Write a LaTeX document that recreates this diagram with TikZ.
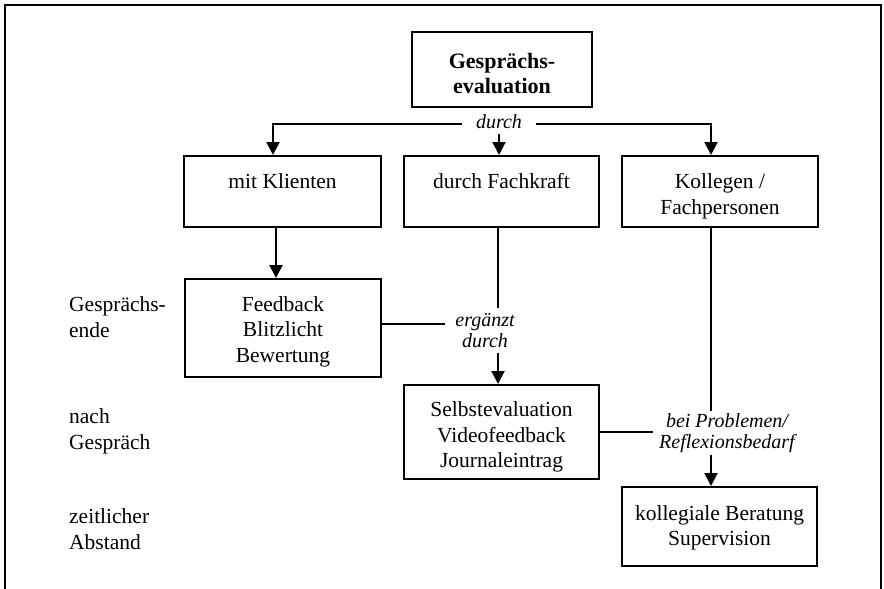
\documentclass[tikz,border=0pt]{standalone}
\usepackage{fontspec}
\setmainfont{Liberation Serif}
\usetikzlibrary{arrows.meta}
\begin{document}
\begin{tikzpicture}[x=1pt,y=-1pt,
  box/.style={draw, line width=2pt, inner sep=0pt},
  txt/.style={align=center, inner sep=0pt, anchor=north, font=\fontsize{21.5}{25.5}\selectfont},
  side/.style={align=left, inner sep=0pt, anchor=north west, font=\fontsize{21.5}{25.5}\selectfont},
  cond/.style={align=center, inner sep=0pt, font=\fontsize{20}{20.5}\selectfont\itshape},
  link/.style={line width=2pt},
  arr/.style={link, -{Triangle[length=13pt,width=13pt]}},
  frame/.style={line width=2.5pt}
]
\useasboundingbox (0,0) rectangle (884,589);

% open outer frame
\draw[frame] (5,589) -- (5,5) -- (881,5) -- (881,589);

% boxes
\node[box, minimum width=180, minimum height=75] (eval)      at (502,69.5)  {};
\node[box, minimum width=197, minimum height=71] (klienten)  at (282.5,191.5) {};
\node[box, minimum width=195, minimum height=71] (fachkraft) at (501.5,191.5) {};
\node[box, minimum width=196, minimum height=71] (kollegen)  at (720,191.5) {};
\node[box, minimum width=196, minimum height=98] (feedback)  at (283,328)   {};
\node[box, minimum width=195, minimum height=94] (selbst)    at (501.5,432) {};
\node[box, minimum width=195, minimum height=79] (berat)     at (719.5,526.5) {};

% box texts
\node[txt, font=\fontsize{22}{25.5}\selectfont\bfseries] (evalT) at (502,50) {\strut Gesprächs-\\evaluation};
\node[txt] (klientenT)  at (282.5,170.6) {\strut mit Klienten};
\node[txt] (fachkraftT) at (501.5,170.6) {\strut durch Fachkraft};
\node[txt] (kollegenT)  at (720,170.6)   {\strut Kollegen /\\Fachpersonen};
\node[txt] (feedbackT)  at (283,293.2)   {\strut Feedback\\Blitzlicht\\Bewertung};
\node[txt] (selbstT)    at (501.5,398.9) {\strut Selbstevaluation\\Videofeedback\\Journaleintrag};
\node[txt] (beratT)     at (719.5,502.2) {\strut kollegiale Beratung\\Supervision};

% time axis on the left
\node[side] (phase1) at (69,293.6) {\strut Gesprächs-\\ende};
\node[side] (phase2) at (69,405.5) {\strut nach\\Gespräch};
\node[side] (phase3) at (69,505.6) {\strut zeitlicher\\Abstand};

% branching below the title box
\node[cond, text depth=5pt, minimum width=74] (durch) at (499,124) {durch};
\draw[arr] (durch.west) -| ([xshift=-9.5pt]klienten.north);
\draw[arr] (durch.east) -| ([xshift=-9pt]kollegen.north);
\draw[arr] (durch.south) -- (durch.south |- fachkraft.north);

% client branch
\draw[arr] ([xshift=-6.5pt]klienten.south) -- ([xshift=-7pt]feedback.north);

% professional branch
\node[cond, minimum width=80, minimum height=45] (erg) at (485,330.5) {ergänzt\\durch};
\coordinate (fbout) at ([yshift=4pt]feedback.east);
\draw[link] (fbout) -- (fbout -| erg.west);
\coordinate (fkout) at ([xshift=-3.5pt]fachkraft.south);
\draw[link] (fkout) -- (fkout |- erg.north);
\draw[arr] (fkout |- erg.south) -- (fkout |- selbst.north);

% colleague branch
\node[cond, minimum width=148, minimum height=43] (bpr) at (727,433) {bei Problemen/\\Reflexionsbedarf};
\draw[link] (selbst.east) -- (selbst.east -| bpr.west);
\coordinate (kgout) at ([xshift=-9pt]kollegen.south);
\draw[link] (kgout) -- (kgout |- bpr.north);
\draw[arr] (kgout |- bpr.south) -- (kgout |- berat.north);
\end{tikzpicture}
\end{document}
